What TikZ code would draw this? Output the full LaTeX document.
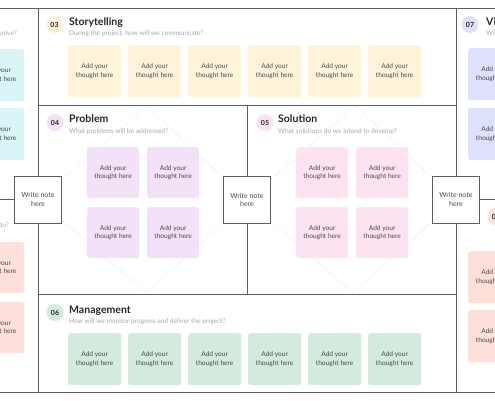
\documentclass[tikz,border=0pt]{standalone}
\usepackage{fontspec}
\setmainfont{Lato}
\usetikzlibrary{positioning,patterns}
\definecolor{lineGray}{HTML}{5E5E5E}
\definecolor{guideGray}{HTML}{DADADA}
\definecolor{titleText}{HTML}{262626}
\definecolor{questionGray}{HTML}{A8A8A8}
\definecolor{noteText}{HTML}{4A4A4A}
\definecolor{storyFill}{HTML}{FFF4DA}
\definecolor{problemFill}{HTML}{F3E1F8}
\definecolor{solutionFill}{HTML}{FDE3F2}
\definecolor{mgmtFill}{HTML}{D3EBDF}
\definecolor{peopleFill}{HTML}{D9F5F7}
\definecolor{visionFill}{HTML}{DEE1FC}
\definecolor{riskFill}{HTML}{FEDFD9}
\tikzset{
  note/.style={rounded corners=2.5pt, anchor=north west, inner sep=0pt,
    minimum width=53pt, minimum height=52pt, align=center,
    font=\fontsize{6.6}{8.4}\selectfont, text=noteText},
  dotnote/.style={note, postaction={pattern=dots, pattern color=white!70!riskFill}},
  badge/.style={circle, minimum size=17pt, inner sep=0pt,
    font=\bfseries\fontsize{7}{8}\selectfont, text=titleText},
  heading/.style={anchor=base west, inner sep=0pt,
    font=\bfseries\fontsize{10.5}{12}\selectfont, text=titleText},
  question/.style={anchor=base west, inner sep=0pt,
    font=\fontsize{6.6}{8}\selectfont, text=questionGray},
  writebox/.style={draw=lineGray, fill=white, line width=0.8pt, inner sep=0pt,
    minimum size=47pt, align=center, font=\fontsize{7}{8.6}\selectfont, text=noteText},
  panel/.style={lineGray, line width=0.8pt},
  guide/.style={guideGray, densely dotted, line width=0.5pt}
}
\begin{document}
\begin{tikzpicture}[x=1pt,y=-1pt]
    \clip (0,0) rectangle (495,400);
    \fill[white] (0,0) rectangle (495,400);
    % Guides
    \draw[guide] (147,106) -- (38,200) -- (147,293) -- (247,200) -- cycle;
    \draw[guide] (356,106) -- (247,200) -- (353,293) -- (456,200) -- cycle;
    % Panels
    \draw[panel] (0,8) -- (495,8);
    \draw[panel] (0,392) -- (495,392);
    \draw[panel] (38,8) -- (38,392);
    \draw[panel] (456,8) -- (456,392);
    \draw[panel] (38,105) -- (456,105);
    \draw[panel] (38,294) -- (456,294);
    \draw[panel] (247,105) -- (247,294);
    \draw[panel] (0,199) -- (38,199);
    \draw[panel] (456,199) -- (495,199);
    % Headers
    \node[question, anchor=base east] (q01) at (17,35) {Who do we need to involve?};
    \node[question, anchor=base east] (q02) at (9,227) {What will they do?};
    \node[badge, fill=storyFill] (b03) at (54.5,24.5) {03};
    \node[heading] (t03) at (69,25) {Storytelling};
    \node[question] (q03) at (69,35.5) {During the project, how will we communicate?};
    \node[badge, fill=problemFill] (b04) at (55,122.5) {04};
    \node[heading] (t04) at (69,122) {Problem};
    \node[question] (q04) at (69,133) {What problems will be addressed?};
    \node[badge, fill=solutionFill] (b05) at (265,122.5) {05};
    \node[heading] (t05) at (278,122) {Solution};
    \node[question] (q05) at (278,133) {What solutions do we intend to develop?};
    \node[badge, fill=mgmtFill] (b06) at (55,312.5) {06};
    \node[heading] (t06) at (69,313) {Management};
    \node[question] (q06) at (69,323.5) {How will we monitor progress and deliver the project?};
    \node[badge, fill=visionFill] (b07) at (470,24.5) {07};
    \node[heading] (t07) at (486,25) {Vision};
    \node[question] (q07) at (486,35.5) {What is our vision?};
    \node[badge, fill=riskFill] (b08) at (496,216.5) {08};
    % Notes
    \foreach \i in {0,...,5}
    {
        \node[note, fill=storyFill] (story\i) at (68+60*\i,45) {Add your\\thought here};
        \node[note, fill=mgmtFill] (mgmt\i) at (68+60*\i,333) {Add your\\thought here};
    }
    \foreach \i in {0,1}
    {
        \node[note, fill=problemFill, minimum width=52pt, minimum height=51pt]
            (problemA\i) at (87+60*\i,147) {Add your\\thought here};
        \node[note, fill=problemFill, minimum width=52pt, minimum height=51pt]
            (problemB\i) at (87+60*\i,207) {Add your\\thought here};
        \node[note, fill=solutionFill, minimum width=52pt, minimum height=51pt]
            (solutionA\i) at (296+60*\i,147) {Add your\\thought here};
        \node[note, fill=solutionFill, minimum width=52pt, minimum height=51pt]
            (solutionB\i) at (296+60*\i,207) {Add your\\thought here};
    }
    \node[note, fill=peopleFill] (people0) at (-29,49) {Add your\\thought here};
    \node[note, fill=peopleFill] (people1) at (-29,108) {Add your\\thought here};
    \node[dotnote, fill=riskFill, minimum height=51pt] (task0) at (-29,242) {Add your\\thought here};
    \node[dotnote, fill=riskFill, minimum height=51pt] (task1) at (-29,302) {Add your\\thought here};
    \node[note, fill=visionFill] (vision0) at (468,48) {Add your\\thought here};
    \node[note, fill=visionFill] (vision1) at (468,108) {Add your\\thought here};
    \node[note, fill=riskFill] (risk0) at (468,251) {Add your\\thought here};
    \node[note, fill=riskFill] (risk1) at (468,310) {Add your\\thought here};
    % Write note boxes
    \node[writebox] (writeL) at (38,199.5) {Write note\\here};
    \node[writebox] (writeM) at (247,200) {Write note\\here};
    \node[writebox] (writeR) at (456,199.5) {Write note\\here};
\end{tikzpicture}
\end{document}
